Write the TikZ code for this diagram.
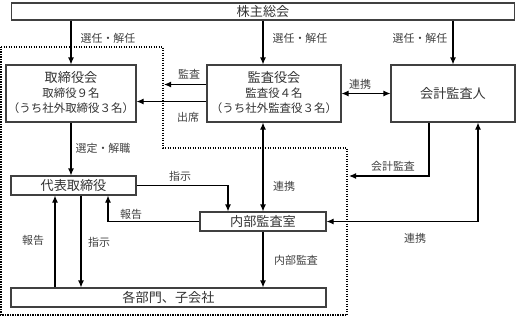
\documentclass[tikz,border=0pt]{standalone}
\usepackage{fontspec}
\setmainfont{Noto Sans CJK JP}
\usetikzlibrary{calc,arrows.meta}
\begin{document}
\begin{tikzpicture}[x=1bp,y=-1bp,
  box/.style={draw=black!75, line width=1.1bp, fill=white, inner sep=0pt, text=black!80},
  arr/.style={line width=1.1bp, -{Latex[length=7bp,width=6bp]}},
  darr/.style={line width=1.1bp, {Latex[length=7bp,width=6bp]}-{Latex[length=7bp,width=6bp]}},
  lbl/.style={font=\fontsize{11}{13}\selectfont, text=black!75, inner sep=0pt},
  big/.style={font=\fontsize{13.2}{15}\selectfont},
  mid/.style={font=\fontsize{11.5}{13}\selectfont, text=black!80, inner sep=0pt},
  dotline/.style={line width=1.3bp, dash pattern=on 1.3bp off 1.2bp}
]
\useasboundingbox (0,0) rectangle (517,320);
% dotted region
\draw[dotline] (1,47) -- (163,47) -- (163,148) -- (347,148) -- (347,315) -- (1,315) -- cycle;

% boxes
\node[box, big, minimum width=503bp, minimum height=17bp] (sh) at (263,11.5) {株主総会};
\node[box, minimum width=130bp, minimum height=57bp] (tb) at (71,93.5) {};
\node[box, minimum width=134bp, minimum height=57bp] (ka) at (274,93.5) {};
\node[box, big, minimum width=124bp, minimum height=57bp] (ak) at (453,93.5) {会計監査人};
\node[box, big, minimum width=125bp, minimum height=19bp] (dh) at (73.5,185.5) {代表取締役};
\node[box, big, minimum width=126bp, minimum height=19bp] (nb) at (263,221.5) {内部監査室};
\node[box, big, minimum width=315bp, minimum height=19bp] (kb) at (168.5,297.5) {各部門、子会社};

% box texts
\node[big, text=black!80, inner sep=0pt] (tbt1) at (71,78) {取締役会};
\node[mid] (tbt2) at (71,93.5) {取締役９名};
\node[mid] (tbt3) at (71,108.5) {（うち社外取締役３名）};
\node[big, text=black!80, inner sep=0pt] (kat1) at (274,78) {監査役会};
\node[mid] (kat2) at (274,93.5) {監査役４名};
\node[mid] (kat3) at (274,108.5) {（うち社外監査役３名）};

% helper coordinates
\coordinate (kansaEnd) at (164,84.5);
\coordinate (kaikeiEnd) at (349,176);

% connectors from 株主総会
\draw[arr] (tb.north |- sh.south) -- (tb.north);
\draw[arr] (nb.north |- sh.south) -- (nb.north |- ka.north);
\draw[arr] (ak.north |- sh.south) -- (ak.north);

% 監査役会 -> 取締役会
\draw[arr] ($(ka.west)+(0,-9)$) -- (kansaEnd);
\draw[arr] ($(ka.west)+(0,8)$) -- ($(tb.east)+(0,8)$);
% 連携 監査役会 <-> 会計監査人
\draw[darr] (ka.east) -- (ak.west);

% 取締役会 -> 代表取締役
\draw[arr] (tb.south) -- (tb.south |- dh.north);

% 代表取締役 -> 内部監査室
\draw[arr] (dh.east) -| ($(nb.north)+(-35,0)$);
% 内部監査室 -> 代表取締役
\draw[arr] (nb.west) -| ($(dh.south)+(34.5,0)$);

% 代表取締役 <-> 各部門
\coordinate (p55) at ($(dh.south)+(-18.5,0)$);
\coordinate (p81) at ($(dh.south)+(7.5,0)$);
\draw[arr] (p55 |- kb.north) -- (p55);
\draw[arr] (p81) -- (p81 |- kb.north);

% 監査役会 <-> 内部監査室
\draw[darr] (nb.north |- ka.south) -- (nb.north);
% 内部監査室 -> 各部門
\draw[arr] (nb.south) -- (nb.south |- kb.north);

% 会計監査人 -> dotted
\draw[arr] ($(ak.south)+(-24,0)$) |- (kaikeiEnd);
% 会計監査人 <-> 内部監査室
\draw[darr] (nb.east) -| ($(ak.south)+(25,0)$);

% labels
\node[lbl] (l1) at (108,38) {選任・解任};
\node[lbl] (l2) at (300,38) {選任・解任};
\node[lbl] (l3) at (420,38) {選任・解任};
\node[lbl] (l4) at (189,74) {監査};
\node[lbl] (l5) at (188,117) {出席};
\node[lbl] (l6) at (360,84) {連携};
\node[lbl] (l7) at (103,148) {選定・解職};
\node[lbl] (l8) at (180,176) {指示};
\node[lbl] (l9) at (131,214) {報告};
\node[lbl] (l10) at (33,240) {報告};
\node[lbl] (l11) at (99,242) {指示};
\node[lbl] (l12) at (284,186) {連携};
\node[lbl] (l13) at (296,260) {内部監査};
\node[lbl] (l14) at (393,166) {会計監査};
\node[lbl] (l15) at (415,238) {連携};
\end{tikzpicture}
\end{document}
